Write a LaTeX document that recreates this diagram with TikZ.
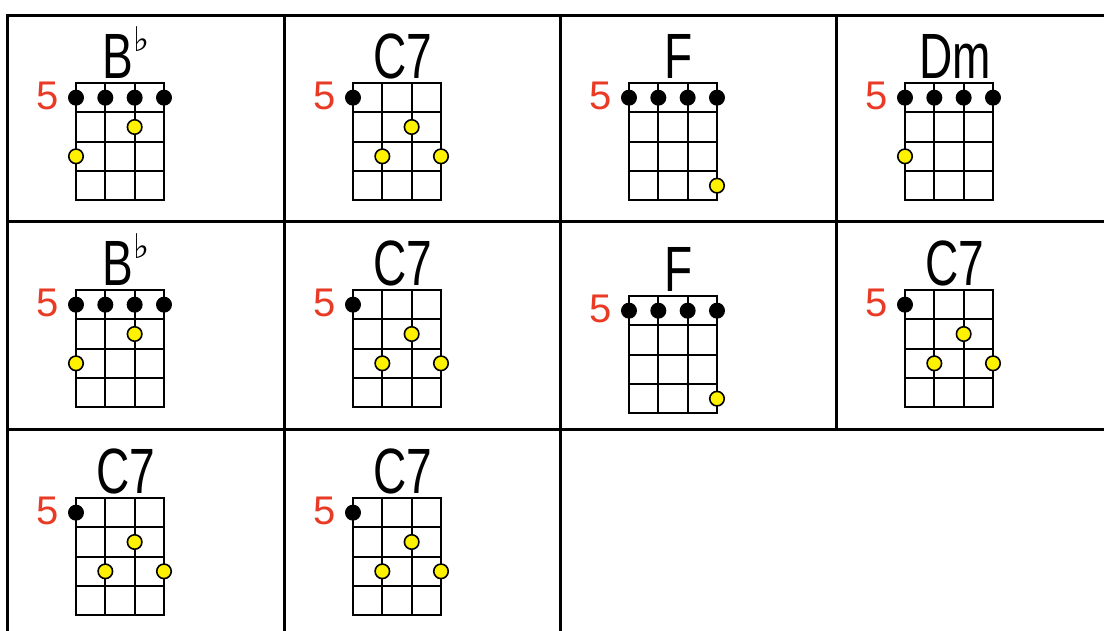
\documentclass[tikz,border=0pt]{standalone}
\usepackage{fontspec}
\setmainfont{Liberation Sans}
\newfontfamily\chordfont[FakeStretch=0.72]{Liberation Sans}
\newfontfamily\symfont{DejaVu Sans}
\definecolor{fretred}{RGB}{232,58,37}
\definecolor{dotyellow}{RGB}{255,242,0}
\usetikzlibrary{positioning}

\tikzset{
  cellline/.style={line width=3pt, line cap=rect},
  fretline/.style={line width=2pt, line cap=rect},
  rootdot/.style={circle, fill=black, minimum size=16pt, inner sep=0pt},
  notedot/.style={circle, draw=black, line width=1.6pt, fill=dotyellow, minimum size=14.5pt, inner sep=0pt},
  fretno/.style={text=fretred, font=\fontsize{40}{40}\selectfont, inner sep=0pt},
  chordname/.style={font=\chordfont\fontsize{64}{64}\selectfont, anchor=base, inner sep=0pt},
}

% one chord box: prefix, grid top-left x, y, name, root strings, note string/row
\newcommand{\ukechord}[6]{%
  \begin{scope}[shift={(#2,#3)}]
    \foreach \s in {0,...,3} \draw[fretline] (\s*29.33,0) -- (\s*29.33,117.3);
    \foreach \r in {0,...,4} \draw[fretline] (0,\r*29.33) -- (88,\r*29.33);
    \node[fretno] (#1-fret) at (-28,13) {5};
    \node[chordname] (#1-name) at (50,-5) {#4};
    \foreach \s in {#5} \node[rootdot] (#1-root-\s) at (\s*29.33,14.67) {};
    \foreach \s/\r in {#6} \node[notedot] (#1-note-\s) at (\s*29.33,\r*29.33-14.67) {};
  \end{scope}}
\newcommand{\bflat}{B\raisebox{0.42em}{\symfont\fontsize{34}{34}\selectfont ♭}}

\begin{document}
\begin{tikzpicture}[x=1pt, y=-1pt]
  \useasboundingbox (0,0) rectangle (1104,630);
  % table
  \foreach \ry in {15,221,429} \draw[cellline] (7,\ry) -- (1104,\ry);
  \foreach \cx in {7,284,560} \draw[cellline] (\cx,15) -- (\cx,630);
  \draw[cellline] (836,15) -- (836,429);
  % row 1
  \ukechord{bbA}{76}{83}{\bflat}{0,1,2,3}{2/2,0/3}
  \ukechord{cA}{353}{83}{C7}{0}{2/2,1/3,3/3}
  \ukechord{fA}{629}{83}{F}{0,1,2,3}{3/4}
  \ukechord{dmA}{905}{83}{Dm}{0,1,2,3}{0/3}
  % row 2
  \ukechord{bbB}{76}{290}{\bflat}{0,1,2,3}{2/2,0/3}
  \ukechord{cB}{353}{290}{C7}{0}{2/2,1/3,3/3}
  \ukechord{fB}{629}{296}{F}{0,1,2,3}{3/4}
  \ukechord{cC}{905}{290}{C7}{0}{2/2,1/3,3/3}
  % row 3
  \ukechord{cD}{76}{498}{C7}{0}{2/2,1/3,3/3}
  \ukechord{cE}{353}{498}{C7}{0}{2/2,1/3,3/3}
\end{tikzpicture}
\end{document}
